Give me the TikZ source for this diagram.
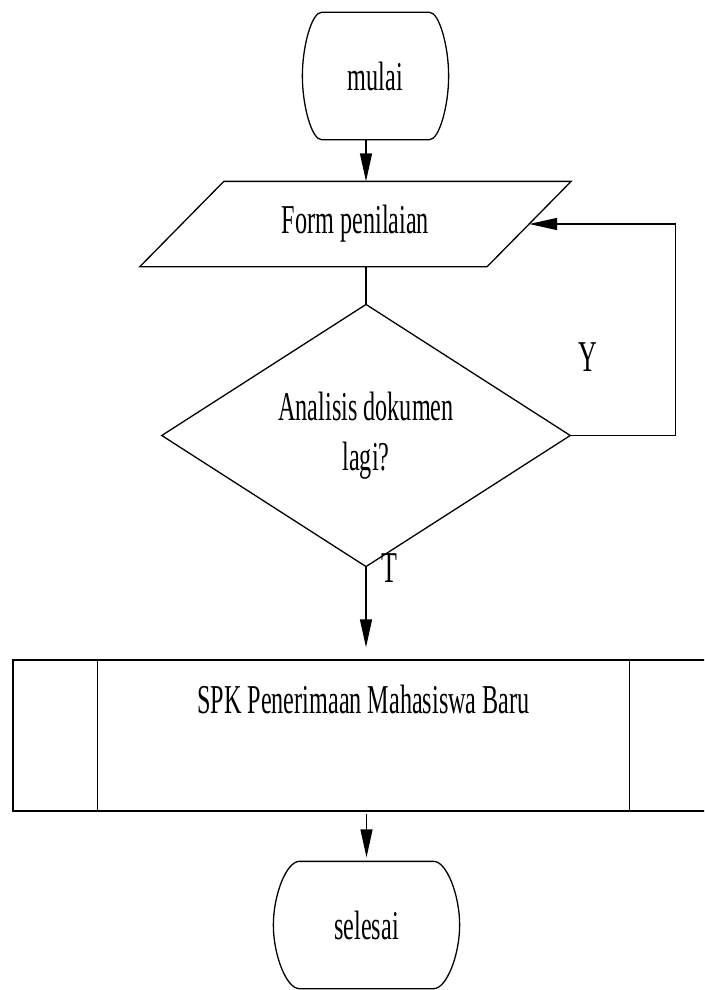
\documentclass[tikz,border=0pt]{standalone}
\usepackage{fontspec}
\setmainfont[FakeStretch=0.59]{Liberation Serif}
\usetikzlibrary{shapes.geometric,arrows.meta}

% garis luar terminal: #1 nama node, #2 lekukan sisi
\newcommand{\termline}[2]{%
	\draw ([xshift=#2]#1.north west) -- ([xshift=-#2]#1.north east)
		.. controls ([xshift=-#2/2]#1.north east) and ([yshift=30pt]#1.east) .. (#1.east)
		.. controls ([yshift=-30pt]#1.east) and ([xshift=-#2/2]#1.south east) .. ([xshift=-#2]#1.south east)
		-- ([xshift=#2]#1.south west)
		.. controls ([xshift=#2/2]#1.south west) and ([yshift=-30pt]#1.west) .. (#1.west)
		.. controls ([yshift=30pt]#1.west) and ([xshift=#2/2]#1.north west) .. ([xshift=#2]#1.north west)
		-- cycle;}

\begin{document}
\begin{tikzpicture}[x=1pt,y=-1pt,line width=1.3pt,
	>={Triangle[length=28pt,width=12pt]},
	every node/.style={font=\fontsize{41}{50}\selectfont},
	terminal/.style={rectangle,minimum height=126pt,inner sep=0pt},
	iobox/.style={rectangle,minimum width=346pt,minimum height=84pt,inner sep=0pt},
	decision/.style={draw,diamond,minimum width=409pt,minimum height=253pt,
		inner sep=0pt,align=center},
	subproc/.style={draw,rectangle,minimum width=701pt,minimum height=151pt,
		text height=28pt,text depth=73pt,inner sep=0pt},
	branch/.style={font=\fontsize{44}{50}\selectfont}]
	\clip (0,0) rectangle (704,990);
	\node[terminal,minimum width=145pt] (mulai) at (375.5,76) {mulai};
	\node[iobox] (form) at (355.5,224) {Form penilaian};
	\node[decision] (dec) at (366,435.5) {Analisis dokumen\\lagi?};
	\node[subproc] (spk) at (363.5,735.5) {SPK Penerimaan Mahasiswa Baru};
	\node[terminal,minimum width=185pt] (selesai) at (366.5,925) {selesai};
	\node[branch] (lblY) at (588,357) {Y};
	\node[branch] (lblT) at (389,568) {T};
	\termline{mulai}{19pt}
	\termline{selesai}{26pt}
	% jajaran genjang input
	\draw ([xshift=42pt]form.north west) -- ([xshift=42pt]form.north east)
		-- ([xshift=-42pt]form.south east) -- ([xshift=-42pt]form.south west) -- cycle;
	% garis tepi subproses
	\draw ([xshift=85pt]spk.north west) -- ([xshift=85pt]spk.south west);
	\draw ([xshift=-85pt]spk.north east) -- ([xshift=-85pt]spk.south east);
	% alur
	\draw[->] (mulai.south -| dec.north) -- (form.north -| dec.north);
	\draw (form.south -| dec.north) -- (dec.north);
	\draw[->] (dec.east) -- ++(104,0) |- (form.east);
	\draw[->] (dec.south) -- ([yshift=12pt]spk.north -| dec.south);
	\draw[->] ([yshift=-2pt]spk.south -| selesai.north) -- ([yshift=4pt]selesai.north);
\end{tikzpicture}
\end{document}
